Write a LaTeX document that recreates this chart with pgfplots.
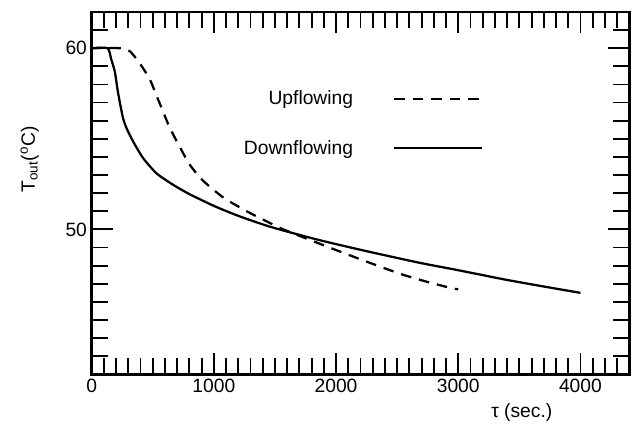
\documentclass[border=0pt]{standalone}
\usepackage{fontspec}
\setmainfont{Liberation Sans}
\usepackage{pgfplots}
\pgfplotsset{compat=1.18}
\begin{document}
\begin{tikzpicture}
\begin{axis}[
  scale only axis,
  width=405pt, height=273pt,
  xmin=0, xmax=4400, ymin=42, ymax=62,
  xtick={0,1000,2000,3000,4000},
  ytick={50,60},
  minor xtick={0,100,...,4400},
  minor ytick={42,43,...,62},
  tick align=inside,
  major tick length=16pt,
  minor tick length=12pt,
  every tick/.style={black, line width=1.4pt},
  axis line style={line width=1.9pt},
  scaled x ticks=false,
  xticklabel style={/pgf/number format/1000 sep={}},
  /pgf/number format/assume math mode=true,
  tick label style={font=\fontsize{14.5}{17}\selectfont},
  label style={font=\fontsize{14.5}{17}\selectfont},
  xlabel={τ (sec.)},
  xlabel style={at={(axis description cs:0.80,0)}, anchor=center, yshift=-29pt},
  ylabel={T\textsubscript{out}(\textsuperscript{o}C)},
  ylabel style={at={(axis description cs:-0.115,0.593)}, anchor=center, rotate=0},
  legend cell align=right,
  legend plot pos=right,
  legend style={draw=none, fill=none, inner sep=0pt,
    at={(axis description cs:0.728,0.79)}, anchor=north east,
    font=\fontsize{14.5}{17}\selectfont, row sep=21pt, column sep=28pt},
  legend image code/.code={\draw[#1] (0pt,0pt) -- (66pt,0pt);},
]
\addplot[black, line width=1.7pt, dash pattern=on 8pt off 6pt, smooth, tension=0.4] coordinates {
(0,60) (230,60) (310,59.85) (390,59.2) (475,58.3) (530,57.4) (585,56.5)
(640,55.6) (710,54.7) (800,53.6) (910,52.7) (1080,51.75) (1270,51.0)
(1430,50.45) (1570,50.0) (1870,49.2) (2200,48.35) (2525,47.55)
(2750,47.1) (2950,46.75) (3000,46.7)
};
\addlegendentry{Upflowing}
\addplot[black, line width=1.7pt, smooth, tension=0.4] coordinates {
(0,60) (130,60) (160,59.4) (190,58.7) (215,57.6) (255,56.2) (285,55.6)
(340,54.85) (420,53.95) (530,53.1) (670,52.45) (800,51.95) (1000,51.3)
(1200,50.75) (1460,50.15) (1840,49.45) (2250,48.8) (2690,48.15)
(3000,47.75) (3370,47.25) (3700,46.85) (4000,46.5)
};
\addlegendentry{Downflowing}
\end{axis}
\pgfresetboundingbox
\path ([shift={(-69pt,-40.5pt)}]current axis.south west) rectangle ([shift={(2pt,9pt)}]current axis.north east);
\end{tikzpicture}
\end{document}
